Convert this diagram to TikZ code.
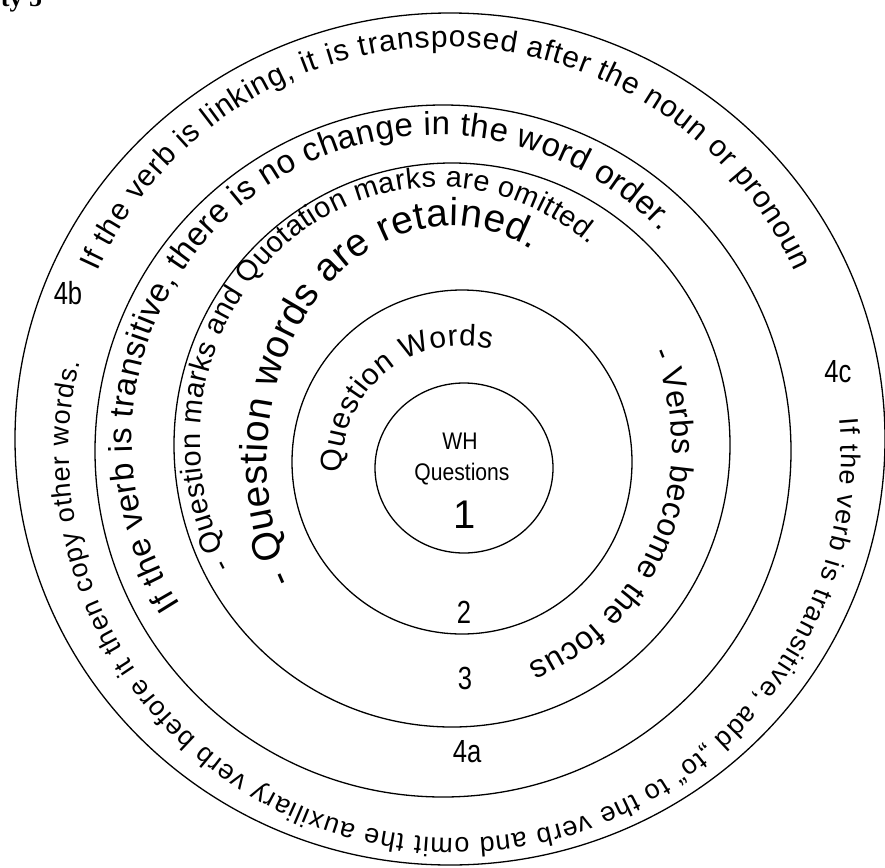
\documentclass[tikz,border=0pt]{standalone}
\usepackage{fontspec}
\setmainfont{Liberation Sans}
\newfontfamily\hdrfont{Liberation Serif}
\usepackage{graphicx}
\usetikzlibrary{decorations.text}
\newcommand\fsz[1]{\fontsize{#1}{#1}\selectfont}
\tikzset{
  ring/.style={draw=black, line width=1.3pt},
  curved/.style={decorate, decoration={text along path, text={#1}, text align=fit to path}},
  lbl/.style={inner sep=0pt, outer sep=0pt},
}
\begin{document}
\begin{tikzpicture}[x=1pt,y=1pt]
\useasboundingbox (0,0) rectangle (885,-867);
\clip (0,0) rectangle (885,-867);
% rings
\draw[ring] (450,-439) ellipse [x radius=435pt, y radius=426pt];
\draw[ring] (443,-451) ellipse [x radius=348pt, y radius=346pt];
\draw[ring] (452,-445) ellipse [x radius=278pt, y radius=282pt];
\draw[ring] (462,-462) ellipse [x radius=170pt, y radius=172pt];
\draw[ring] (464,-468) ellipse [x radius=89pt, y radius=85pt];
% curved texts
\path[curved={|\fsz{30}|If the verb is linking, it is transposed after the noun or pronoun}] (446,-430) ++(155.6:383pt) arc[start angle=155.6, end angle=24.4, radius=383pt];
\path[curved={|\fsz{27}|If the verb is transitive, add „to“ to the verb and omit the auxiliary verb before it then copy other words.}] (455,-452) ++(5:386pt) arc[start angle=5, end angle=-193.5, radius=386pt];
\path[curved={|\fsz{33}|If the verb is transitive, there is no change in the word order.}] (437,-440) ++(212.6:305pt) arc[start angle=212.6, end angle=42.9, radius=305pt];
\path[curved={|\fsz{29}|- Question marks and Quotation marks are omitted.}] (438,-440) ++(210:238pt and 253pt) arc[start angle=210, end angle=50.4, x radius=238pt, y radius=253pt];
\path[curved={|\fsz{39}|- Question words are retained.}] (451,-460) ++(211:184pt and 234pt) arc[start angle=211, end angle=63.9, x radius=184pt, y radius=234pt];
\path[curved={|\fsz{32}|- Verbs become the focus}] (435,-446) ++(23.3:237pt) arc[start angle=23.3, end angle=-66.8, radius=237pt];
\path[curved={|\fsz{30}|Question Words}] (462,-466) ++(183:120pt) arc[start angle=183, end angle=76, radius=120pt];
% labels
\node[lbl, font=\fsz{24}] (wh) at (460,-441) {\scalebox{0.88}[1]{WH}};
\node[lbl, font=\fsz{24}] (qs) at (462,-474) {\scalebox{0.88}[1]{Questions}};
\node[lbl, font=\fsz{40}] (n1) at (465,-515) {1};
\node[lbl, font=\fsz{32}] (n2) at (464,-612) {\scalebox{0.8}[1]{2}};
\node[lbl, font=\fsz{32}] (n3) at (465,-678) {\scalebox{0.8}[1]{3}};
\node[lbl, font=\fsz{32}] (n4a) at (467,-752) {\scalebox{0.8}[1]{4a}};
\node[lbl, font=\fsz{32}] (n4b) at (68,-293) {\scalebox{0.8}[1]{4b}};
\node[lbl, font=\fsz{32}] (n4c) at (838,-372) {\scalebox{0.8}[1]{4c}};
\node[lbl, anchor=base west, font=\hdrfont\bfseries\fsz{26}] (hdr) at (1,-7) {ty 5};
\end{tikzpicture}
\end{document}
